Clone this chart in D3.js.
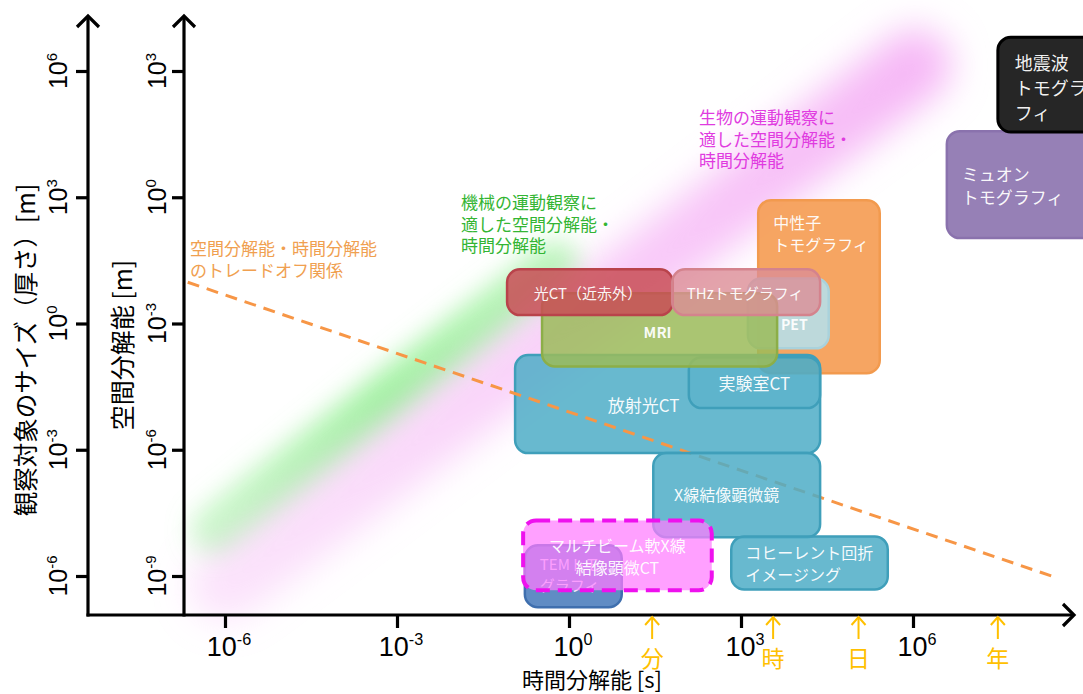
<!DOCTYPE html>
<html><head><meta charset="utf-8">
<script src="https://cdn.jsdelivr.net/npm/d3@7"></script>
<style>
body{margin:0;background:#fff}
svg{display:block}
</style>
</head><body>
<svg id="c" width="1083" height="694"></svg>
<script>
// ---------------- DATA (exponents of 10) ----------------
const sizeTickExp = [6, 3, 0, -3, -6];          // 観察対象のサイズ [m]
const resTickExp  = [3, 0, -3, -6, -9];         // 空間分解能 [m]
const timeTickExp = [-6, -3, 0, 3, 6];          // 時間分解能 [s]

const timeMarkLabels = ["分", "時", "日", "年"];
const timeMarkExp    = [1.45, 3.56, 5.05, 7.48];

const methodNames = ["中性子トモグラフィ","PET","放射光CT","実験室CT","MRI","光CT（近赤外）",
  "THzトモグラフィ","X線結像顕微鏡","コヒーレント回折イメージング","TEMトモグラフィ",
  "マルチビーム軟X線結像顕微CT","ミュオントモグラフィ","地震波トモグラフィ"];
const methodLabels = ["中性子\nトモグラフィ","PET","放射光CT","実験室CT","MRI","光CT（近赤外）",
  "THzトモグラフィ","X線結像顕微鏡","コヒーレント回折\nイメージング","TEMトモ\nグラフィ",
  "マルチビーム軟X線\n結像顕微CT","ミュオン\nトモグラフィ","地震波\nトモグラ\nフィ"];
const timeMinExp = [3.30, 3.12, -0.94, 2.09, -0.47, -1.08, 1.80, 1.47, 2.83, -0.77, -0.80, 6.59, 7.48];
const timeMaxExp = [5.42, 4.53, 4.38, 4.38, 3.63, 1.81, 4.38, 4.38, 5.56, 0.92, 2.49, 9.40, 9.40];
const resMinExp  = [-4.18, -3.59, -6.08, -5.01, -4.02, -2.80, -2.80, -8.08, -9.32, -9.74, -9.34, -0.97, 1.55];
const resMaxExp  = [-0.07, -1.93, -3.75, -3.80, -2.28, -1.71, -1.71, -6.08, -8.06, -8.27, -7.68, 1.57, 3.80];

// trade-off line and suitability bands
const tradeoffT = [-6.65, 8.48], tradeoffR = [-2.02, -9.03];
const mechBandT = [-6.17, -0.24], mechBandR = [-7.91, -1.62];
const bioBandT  = [-6.0, 6.04],   bioBandR  = [-9.22, 3.14];

const annoTexts = [
  "空間分解能・時間分解能\nのトレードオフ関係",
  "機械の運動観察に\n適した空間分解能・\n時間分解能",
  "生物の運動観察に\n適した空間分解能・\n時間分解能"
];

// ---------------- STYLE ----------------
const JP = "'Noto Sans CJK JP','Noto Sans',sans-serif";
const LAT = "'Liberation Sans Narrow','Liberation Sans',Arial,sans-serif";
const boxStyle = {
  "中性子トモグラフィ": {fill:"#f6a05a", stroke:"#f29a4e", op:0.95, align:"topleft", dx:15, dy:22, fs:16},
  "PET": {fill:"#b9dbe2", stroke:"#a9d2dc", op:0.95, align:"center", dx:6, dy:11, fs:14, bold:true},
  "放射光CT": {fill:"#4eadc7", stroke:"#3f9fba", op:0.85, align:"center", dx:-24, dy:0, fs:17},
  "実験室CT": {fill:"#4eadc7", stroke:"#3f9fba", op:0.35, align:"center", dx:0, dy:-1, fs:17},
  "MRI": {fill:"#9bbb59", stroke:"#8cae48", op:0.85, align:"center", dx:-2, dy:1, fs:15, bold:true},
  "光CT（近赤外）": {fill:"#c94d56", stroke:"#b9434b", op:0.85, align:"center", dx:-2, dy:0, fs:15},
  "THzトモグラフィ": {fill:"#dc8d96", stroke:"#d4838d", op:0.8, align:"center", dx:-1, dy:0, fs:15},
  "X線結像顕微鏡": {fill:"#4eadc7", stroke:"#3f9fba", op:0.85, align:"center", dx:-10, dy:-1, fs:16},
  "コヒーレント回折イメージング": {fill:"#4eadc7", stroke:"#3f9fba", op:0.85, align:"left", dx:14, dy:0, fs:16},
  "TEMトモグラフィ": {fill:"#4f7fbe", stroke:"#3f6fae", op:0.9, align:"left", dx:15, dy:-3, fs:15},
  "マルチビーム軟X線結像顕微CT": {fill:"#ff7cff", stroke:"#ee11ee", op:0.72, align:"center", dx:0, dy:1, fs:16, dash:"14,8", sw:4},
  "ミュオントモグラフィ": {fill:"#9680b6", stroke:"#8a72ad", op:1, align:"left", dx:15, dy:0, fs:17},
  "地震波トモグラフィ": {fill:"#262626", stroke:"#000", op:1, align:"left", dx:17, dy:2, fs:18, sw:3}
};
const annoStyle = [
  {x:190, y:247, color:"#f0a050", fs:17},
  {x:461, y:201, color:"#33b533", fs:17},
  {x:699, y:116, color:"#e03be0", fs:17}
];

// ---------------- SCALES ----------------
const p10 = e => Math.pow(10, e);
const x = d3.scaleLog().domain([1e-6, 1e6]).range([225, 913]);
const yRes = d3.scaleLog().domain([1e-9, 1e3]).range([576, 71]);
const ySize = d3.scaleLog().domain([1e-6, 1e6]).range([576, 71]);

const svg = d3.select("#c");
const defs = svg.append("defs");
function blur(id, sd) {
  defs.append("filter").attr("id", id).attr("x","-50%").attr("y","-50%").attr("width","200%").attr("height","200%")
    .append("feGaussianBlur").attr("stdDeviation", sd);
}
blur("blurG", 13); blur("blurP", 18);
function grad(id, T, R, color, stops) {
  const g = defs.append("linearGradient").attr("id", id).attr("gradientUnits","userSpaceOnUse")
    .attr("x1", x(p10(T[0]))).attr("y1", yRes(p10(R[0]))).attr("x2", x(p10(T[1]))).attr("y2", yRes(p10(R[1])));
  stops.forEach(s => g.append("stop").attr("offset", s[0]).attr("stop-color", color).attr("stop-opacity", s[1]));
}
grad("gG", mechBandT, mechBandR, "#8cf08c", [[0,0.45],[0.5,0.8],[1,0.6]]);
grad("gP", bioBandT, bioBandR, "#f3a0f3", [[0,0.3],[0.5,0.5],[1,0.75]]);

// ---------------- BANDS ----------------
const bandLine = d3.line().x(d => x(p10(d[0]))).y(d => yRes(p10(d[1])));
svg.append("path").datum(mechBandT.map((t,i)=>[t, mechBandR[i]]))
  .attr("d", bandLine).attr("stroke","url(#gG)").attr("stroke-width",48)
  .attr("stroke-linecap","round").attr("fill","none").attr("filter","url(#blurG)");
svg.append("path").datum(bioBandT.map((t,i)=>[t, bioBandR[i]]))
  .attr("d", bandLine).attr("stroke","url(#gP)").attr("stroke-width",72)
  .attr("stroke-linecap","round").attr("fill","none").attr("filter","url(#blurP)");

// ---------------- ANNOTATIONS ----------------
annoTexts.forEach((s,i) => {
  const st = annoStyle[i];
  const t = svg.append("text").attr("x", st.x).attr("y", st.y).attr("fill", st.color)
    .attr("font-family", JP).attr("font-size", st.fs).attr("dominant-baseline","central");
  s.split("\n").forEach((ln,j) => t.append("tspan").attr("x", st.x).attr("dy", j===0?0:21.5).text(ln));
});

// ---------------- BOXES ----------------
function drawBox(i) {
  const name = methodNames[i], st = boxStyle[name];
  const x0 = x(p10(timeMinExp[i])), x1 = x(p10(timeMaxExp[i]));
  const y0 = yRes(p10(resMaxExp[i])), y1 = yRes(p10(resMinExp[i]));
  const g = svg.append("g");
  g.append("rect").attr("x", x0).attr("y", y0).attr("width", x1-x0).attr("height", y1-y0)
    .attr("rx", 13).attr("fill", st.fill).attr("fill-opacity", st.op)
    .attr("stroke", st.stroke).attr("stroke-width", st.sw || 2.5)
    .attr("stroke-dasharray", st.dash || null);
  const lines = methodLabels[i].split("\n");
  const lh = st.fs * 1.38;
  let tx, ty, anchor;
  if (st.align === "center") { tx = (x0+x1)/2 + st.dx; ty = (y0+y1)/2 + st.dy - (lines.length-1)*lh/2; anchor = "middle"; }
  else if (st.align === "left") { tx = x0 + st.dx; ty = (y0+y1)/2 + st.dy - (lines.length-1)*lh/2; anchor = "start"; }
  else { tx = x0 + st.dx; ty = y0 + st.dy; anchor = "start"; }
  const t = g.append("text").attr("x", tx).attr("y", ty).attr("fill", "#fff").attr("fill-opacity", 0.95)
    .attr("font-family", JP).attr("font-size", st.fs).attr("text-anchor", anchor)
    .attr("dominant-baseline","central").attr("font-weight", st.bold ? "bold" : "normal");
  lines.forEach((ln,j) => t.append("tspan").attr("x", tx).attr("dy", j===0?0:lh).text(ln));
}
const order = ["中性子トモグラフィ","PET","放射光CT","実験室CT","MRI","光CT（近赤外）","THzトモグラフィ",
  "__line__","X線結像顕微鏡","コヒーレント回折イメージング","TEMトモグラフィ","マルチビーム軟X線結像顕微CT",
  "ミュオントモグラフィ","地震波トモグラフィ"];
order.forEach(n => {
  if (n === "__line__") {
    svg.append("path").datum(tradeoffT.map((t,i)=>[t, tradeoffR[i]]))
      .attr("d", bandLine).attr("stroke","#f79646").attr("stroke-width",3)
      .attr("stroke-dasharray","12,8").attr("fill","none");
  } else drawBox(methodNames.indexOf(n));
});

// ---------------- AXES ----------------
const axisY = 615, outerX = 88, innerX = 184, topY = 16, xEnd = 1074;
function arrowHead(g, x0, y0, dir) {
  const a = 11;
  const pts = dir === "up" ? [[x0-a, y0+a],[x0,y0],[x0+a,y0+a]] : [[x0-a, y0-a],[x0,y0],[x0-a,y0+a]];
  g.append("path").attr("d", d3.line()(pts)).attr("fill","none").attr("stroke","#000")
    .attr("stroke-width",3.2).attr("stroke-linejoin","miter");
}
const ax = svg.append("g");
ax.append("line").attr("x1",outerX).attr("x2",outerX).attr("y1",axisY+1.5).attr("y2",topY).attr("stroke","#000").attr("stroke-width",3.2);
ax.append("line").attr("x1",innerX).attr("x2",innerX).attr("y1",axisY+1.5).attr("y2",topY).attr("stroke","#000").attr("stroke-width",3.2);
ax.append("line").attr("x1",outerX-1.5).attr("x2",xEnd).attr("y1",axisY).attr("y2",axisY).attr("stroke","#000").attr("stroke-width",3.2);
arrowHead(ax, outerX, topY, "up");
arrowHead(ax, innerX, topY, "up");
arrowHead(ax, xEnd, axisY, "right");

// tick marks through d3 axes
const gOuter = svg.append("g").attr("transform", `translate(${outerX},0)`)
  .call(d3.axisLeft(ySize).tickValues(sizeTickExp.map(p10)).tickSize(12).tickFormat(""));
const gInner = svg.append("g").attr("transform", `translate(${innerX},0)`)
  .call(d3.axisLeft(yRes).tickValues(resTickExp.map(p10)).tickSize(12).tickFormat(""));
const gX = svg.append("g").attr("transform", `translate(0,${axisY})`)
  .call(d3.axisBottom(x).tickValues(timeTickExp.map(p10)).tickSize(13).tickFormat(""));
[gOuter, gInner, gX].forEach(g => {
  g.select(".domain").remove();
  g.selectAll(".tick line").attr("stroke","#000").attr("stroke-width",3.2);
});

function powLabel(g, e, fs) {
  const t = g.append("text").attr("font-family", LAT).attr("font-size", fs).attr("fill","#000").attr("text-anchor","middle");
  t.append("tspan").text("10");
  t.append("tspan").attr("font-size", fs*0.6).attr("dy", -fs*0.42).text(e < 0 ? "-" + (-e) : String(e));
  return t;
}
sizeTickExp.forEach(e => {
  const g = svg.append("g").attr("transform", `translate(67,${ySize(p10(e))}) rotate(-90)`);
  powLabel(g, e, 25);
});
resTickExp.forEach(e => {
  const g = svg.append("g").attr("transform", `translate(166,${yRes(p10(e))}) rotate(-90)`);
  powLabel(g, e, 25);
});
timeTickExp.forEach(e => {
  const g = svg.append("g").attr("transform", `translate(${x(p10(e))+4},656)`);
  powLabel(g, e, 27);
});

// time unit markers
timeMarkLabels.forEach((lab, i) => {
  const cx = x(p10(timeMarkExp[i]));
  const g = svg.append("g");
  g.append("line").attr("x1",cx).attr("x2",cx).attr("y1",639).attr("y2",617).attr("stroke","#ffc000").attr("stroke-width",2);
  g.append("path").attr("d", d3.line()([[cx-7,625],[cx,617],[cx+7,625]])).attr("fill","none").attr("stroke","#ffc000").attr("stroke-width",2);
  g.append("text").attr("x",cx).attr("y",657).attr("text-anchor","middle").attr("dominant-baseline","central")
    .attr("font-family",JP).attr("font-size",23).attr("fill","#ffc000").text(lab);
});

// axis titles
svg.append("text").attr("transform","translate(24,350) rotate(-90)").attr("text-anchor","middle")
  .attr("dominant-baseline","central").attr("font-family",JP).attr("font-size",24.5).attr("fill","#000")
  .text("観察対象のサイズ（厚さ）[m]");
svg.append("text").attr("transform","translate(121,345) rotate(-90)").attr("text-anchor","middle")
  .attr("dominant-baseline","central").attr("font-family",JP).attr("font-size",25).attr("fill","#000")
  .text("空間分解能 [m]");
svg.append("text").attr("x",592).attr("y",678).attr("text-anchor","middle")
  .attr("dominant-baseline","central").attr("font-family",JP).attr("font-size",22).attr("fill","#000")
  .text("時間分解能 [s]");
</script>
</body></html>
